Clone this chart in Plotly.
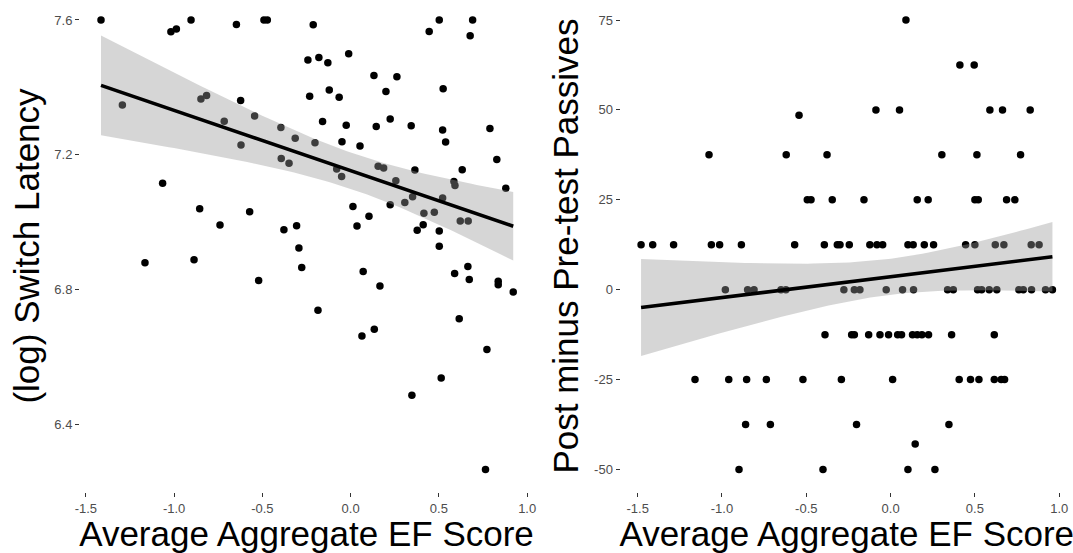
import numpy as np
import plotly.graph_objects as go

# ---------------- data: left panel ----------------
ef_left = [-1.414, -1.293, -1.018, -0.987, -0.904, -0.647, -0.491, -0.472, -0.848, -0.816,
           -0.623, -0.716, -0.544, -0.621, -0.395, -0.314, -0.393, -0.349, -1.065, -0.855,
           -0.572, -0.740, -0.378, -0.306, -0.293, -0.212, 0.502, 0.691, 0.445, 0.677,
           -0.242, -0.180, -0.129, -0.011, 0.132, 0.262, 0.200, 0.524, -0.232, -0.121,
           -0.065, -0.159, -0.025, 0.145, 0.224, 0.343, 0.521, 0.538, 0.789, -0.202,
           -0.049, 0.053, -0.079, -0.051, 0.156, 0.187, 0.364, 0.632, 0.828, 0.879,
           0.256, 0.585, 0.591, 0.351, 0.307, 0.521, 0.415, 0.474, 0.621, 0.666,
           0.013, 0.104, 0.224, 0.036, 0.377, 0.411, 0.502, 0.502, -1.165, -0.887,
           -0.521, -0.277, 0.071, 0.166, 0.589, 0.664, 0.672, 0.836, 0.836, 0.921,
           -0.185, 0.615, 0.064, 0.134, 0.772, 0.513, 0.347, 0.764]
log_switch = [7.600, 7.348, 7.565, 7.573, 7.600, 7.587, 7.600, 7.600, 7.366, 7.376,
              7.361, 7.300, 7.315, 7.229, 7.281, 7.249, 7.189, 7.175, 7.116, 7.040,
              7.031, 6.992, 6.978, 6.990, 6.924, 7.586, 7.600, 7.600, 7.566, 7.553,
              7.481, 7.489, 7.473, 7.500, 7.435, 7.432, 7.388, 7.396, 7.374, 7.392,
              7.371, 7.299, 7.288, 7.284, 7.306, 7.286, 7.274, 7.238, 7.278, 7.236,
              7.239, 7.226, 7.158, 7.136, 7.166, 7.161, 7.155, 7.156, 7.186, 7.101,
              7.123, 7.121, 7.109, 7.076, 7.059, 7.072, 7.027, 7.030, 7.004, 7.004,
              7.047, 7.018, 7.052, 6.989, 6.976, 6.993, 6.974, 6.929, 6.880, 6.889,
              6.827, 6.866, 6.854, 6.811, 6.848, 6.869, 6.830, 6.825, 6.815, 6.793,
              6.739, 6.714, 6.663, 6.683, 6.623, 6.538, 6.487, 6.267]

# ---------------- data: right panel ----------------
ef_right = [0.091,
            0.411, 0.496,
            -0.087, 0.053, 0.589, 0.664, 0.828,
            -0.543,
            -1.077, -0.619, -0.377, 0.304, 0.512, 0.771,
            -0.494, -0.472, -0.346, -0.158, 0.158, 0.223, 0.500, 0.520, 0.688, 0.737,
            -1.480, -1.411, -1.287, -1.063, -1.014, -0.885, -0.569, -0.393, -0.316, -0.300,
            -0.245, -0.123, -0.081, -0.047, 0.103, 0.134, 0.200, 0.255, 0.445, 0.500,
            0.621, 0.672, 0.834, 0.881,
            -0.980, -0.848, -0.810, -0.650, -0.621, -0.277, -0.215, -0.182, -0.026, 0.071,
            0.136, 0.338, 0.372, 0.516, 0.540, 0.585, 0.630, 0.761, 0.787, 0.836,
            0.919, 0.960,
            -0.389, -0.231, -0.215, -0.130, -0.063, -0.012, 0.042, 0.065, 0.130, 0.158,
            0.186, 0.225, 0.362, 0.615,
            -1.160, -0.960, -0.854, -0.737, -0.520, -0.292, 0.012, 0.407, 0.474, 0.524,
            0.615, 0.656, 0.676,
            -0.860, -0.713, -0.202, 0.346,
            0.146,
            -0.899, -0.401, 0.103, 0.263]
passives_diff = [75.0,
                 62.5, 62.5,
                 50.0, 50.0, 50.0, 50.0, 50.0,
                 48.5,
                 37.5, 37.5, 37.5, 37.5, 37.5, 37.5,
                 25.0, 25.0, 25.0, 25.0, 25.0, 25.0, 25.0, 25.0, 25.0, 25.0,
                 12.5, 12.5, 12.5, 12.5, 12.5, 12.5, 12.5, 12.5, 12.5, 12.5,
                 12.5, 12.5, 12.5, 12.5, 12.5, 12.5, 12.5, 12.5, 12.5, 12.5,
                 12.5, 12.5, 12.5, 12.5,
                 0.0, 0.0, 0.0, 0.0, 0.0, 0.0, 0.0, 0.0, 0.0, 0.0,
                 0.0, 0.0, 0.0, 0.0, 0.0, 0.0, 0.0, 0.0, 0.0, 0.0,
                 0.0, 0.0,
                 -12.5, -12.5, -12.5, -12.5, -12.5, -12.5, -12.5, -12.5, -12.5, -12.5,
                 -12.5, -12.5, -12.5, -12.5,
                 -25.0, -25.0, -25.0, -25.0, -25.0, -25.0, -25.0, -25.0, -25.0, -25.0,
                 -25.0, -25.0, -25.0,
                 -37.5, -37.5, -37.5, -37.5,
                 -42.9,
                 -50.0, -50.0, -50.0, -50.0]

x_ticks = [-1.5, -1.0, -0.5, 0.0, 0.5, 1.0]
x_ticklabels = ["-1.5", "-1.0", "-0.5", "0.0", "0.5", "1.0"]
left_y_ticks = [6.4, 6.8, 7.2, 7.6]
left_y_ticklabels = ["6.4", "6.8", "7.2", "7.6"]
right_y_ticks = [-50, -25, 0, 25, 50, 75]
right_y_ticklabels = ["-50", "-25", "0", "25", "50", "75"]


def t_quantile(p, df):
    # Cornish-Fisher expansion of Student t quantile from the normal quantile
    z = 1.959963984540054
    g1 = (z ** 3 + z) / 4.0
    g2 = (5 * z ** 5 + 16 * z ** 3 + 3 * z) / 96.0
    g3 = (3 * z ** 7 + 19 * z ** 5 + 17 * z ** 3 - 15 * z) / 384.0
    return z + g1 / df + g2 / df ** 2 + g3 / df ** 3


def lm_band(xs, ys, n=80):
    x = np.asarray(xs, float)
    y = np.asarray(ys, float)
    N = len(x)
    b1, b0 = np.polyfit(x, y, 1)
    resid = y - (b0 + b1 * x)
    s = np.sqrt(np.sum(resid ** 2) / (N - 2))
    xm = x.mean()
    sxx = np.sum((x - xm) ** 2)
    grid = np.linspace(x.min(), x.max(), n)
    fit = b0 + b1 * grid
    se = s * np.sqrt(1.0 / N + (grid - xm) ** 2 / sxx)
    t = t_quantile(0.975, N - 2)
    return grid, fit, fit - t * se, fit + t * se


fig = go.Figure()

W, H = 1073, 553
panels = [
    dict(x=ef_left, y=log_switch, xa="x", ya="y"),
    dict(x=ef_right, y=passives_diff, xa="x2", ya="y2"),
]

for p in panels:
    fig.add_trace(go.Scatter(
        x=p["x"], y=p["y"], mode="markers", xaxis=p["xa"], yaxis=p["ya"],
        marker=dict(color="black", size=7.5, line=dict(width=0)),
        showlegend=False, hoverinfo="skip"))
    g, f, lo, hi = lm_band(p["x"], p["y"])
    fig.add_trace(go.Scatter(
        x=np.concatenate([g, g[::-1]]), y=np.concatenate([hi, lo[::-1]]),
        mode="lines", fill="toself", fillcolor="rgba(153,153,153,0.4)",
        line=dict(width=0), xaxis=p["xa"], yaxis=p["ya"],
        showlegend=False, hoverinfo="skip"))
    fig.add_trace(go.Scatter(
        x=g, y=f, mode="lines", line=dict(color="black", width=3.6),
        xaxis=p["xa"], yaxis=p["ya"], showlegend=False, hoverinfo="skip"))

tickfont = dict(family="Liberation Sans, Arial, sans-serif", size=13, color="#4D4D4D")
titlefont = dict(family="Liberation Sans, Arial, sans-serif", size=35, color="black")

common_x = dict(showgrid=False, zeroline=False, showline=False, ticks="outside",
                ticklen=4, tickwidth=1, tickcolor="#333333", tickfont=tickfont,
                tickvals=x_ticks, ticktext=x_ticklabels, automargin=False,
                title=dict(text="Average Aggregate EF Score", font=titlefont, standoff=0))
common_y = dict(showgrid=False, zeroline=False, showline=False, ticks="outside",
                ticklen=4, tickwidth=1, tickcolor="#333333", tickfont=tickfont,
                domain=[0, 1], automargin=False)

fig.update_layout(
    width=W, height=H,
    margin=dict(l=0, r=0, t=0, b=60.5),
    paper_bgcolor="white", plot_bgcolor="white",
    hovermode=False,
    xaxis=dict(common_x, domain=[80 / W, 533 / W], range=[-1.533, 1.033], anchor="y"),
    yaxis=dict(common_y, range=[6.2, 7.6593], tickvals=left_y_ticks,
               ticktext=left_y_ticklabels, anchor="x",
               title=dict(text="(log) Switch Latency", font=titlefont, standoff=4)),
    xaxis2=dict(common_x, domain=[620.5 / W, 1.0], range=[-1.602, 1.082], anchor="y2"),
    yaxis2=dict(common_y, range=[-56.25, 80.56], tickvals=right_y_ticks,
                ticktext=right_y_ticklabels, anchor="x2",
                title=dict(text="Post minus Pre-test Passives", font=titlefont, standoff=4)),
)

fig.write_html("out.html",
               config={"displayModeBar": False, "staticPlot": True},
               post_script="document.body.style.margin='0px';document.body.style.overflow='hidden';")
